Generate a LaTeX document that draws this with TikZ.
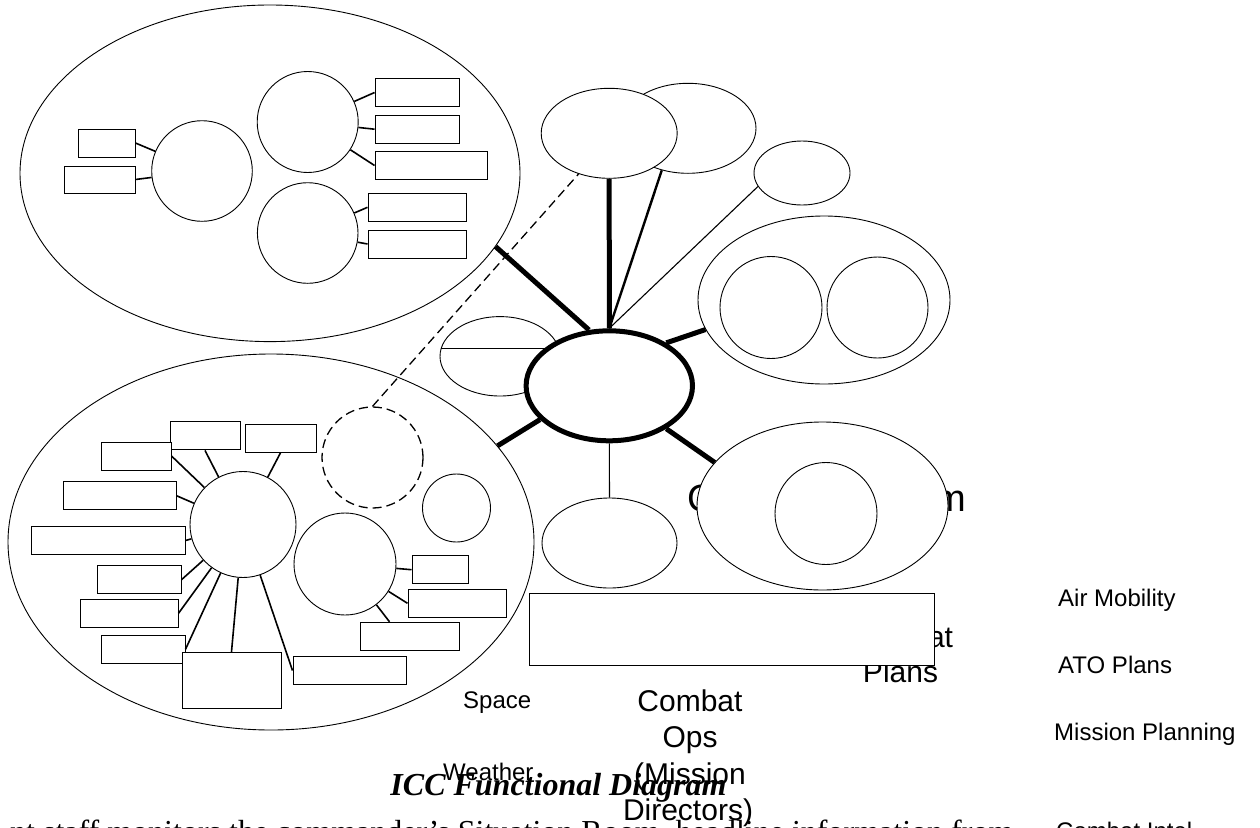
\documentclass[tikz,border=0pt]{standalone}
\usepackage{fontspec}
\setmainfont{Liberation Serif}
\newfontfamily\arialf{Liberation Sans}
\usetikzlibrary{shapes.geometric}
\begin{document}
\begin{tikzpicture}[x=1pt,y=-1pt,
  ell/.style={draw,ellipse,inner sep=0pt,line width=0.9pt,fill=white},
  circ/.style={draw,circle,inner sep=0pt,line width=0.9pt,fill=white},
  bx/.style={draw,rectangle,inner sep=0pt,line width=1pt,fill=white},
  conn/.style={line width=1.6pt},
  spoke/.style={line width=5pt},
  dashln/.style={line width=1.3pt,dash pattern=on 9pt off 5pt},
  sml/.style={font=\arialf\fontsize{24}{28}\selectfont,inner sep=0pt,anchor=base west},
  mid/.style={font=\arialf\fontsize{30}{36}\selectfont,inner sep=0pt,anchor=base}
]
\clip (0,0) rectangle (1260,827);
\path[use as bounding box] (0,0) rectangle (1260,827);

% texts partly hidden behind shapes
\node[font=\arialf\fontsize{38}{44}\selectfont,inner sep=0pt,anchor=base west] (tteam) at (687,511) {Command Team};
\node[mid] (tcp1) at (900.5,647) {Combat};
\node[mid] (tcp2) at (900.5,682) {Plans};

% large shapes
\node[ell,minimum width=500pt,minimum height=336.6pt] (TL) at (270,173.3) {};
\node[ell,minimum width=526pt,minimum height=376pt] (LL) at (271,542) {};
\node[ell,minimum width=252pt,minimum height=168pt] (D) at (824,300) {};
\node[ell,minimum width=96pt,minimum height=64pt] (C) at (802,173) {};
\node[ell,minimum width=136pt,minimum height=90pt] (B) at (688,128.3) {};
\node[ell,minimum width=136pt,minimum height=90pt] (A) at (609.2,133.3) {};
\node[ell,minimum width=135pt,minimum height=90pt] (E) at (609.5,543) {};
\node[ell,minimum width=251pt,minimum height=168pt] (LR) at (822.5,506) {};
\node[ell,minimum width=120pt,minimum height=79.4pt] (F) at (500,356.3) {};
\draw[line width=0.9pt] (F.172) -- (F.8);
\node[bx,minimum width=405pt,minimum height=72pt] (wide) at (731.5,629) {};
\node[draw,ellipse,inner sep=0pt,line width=5pt,fill=white,minimum width=166.4pt,minimum height=110pt] (hub) at (609.3,385.8) {};

% top-left group
\node[circ,minimum size=100.6pt] (c1) at (202,171) {};
\node[circ,minimum size=101pt] (c2) at (307.7,122) {};
\node[circ,minimum size=100.6pt] (c3) at (307.7,233) {};
\node[bx,minimum width=57pt,minimum height=28pt] (bA) at (106.5,143) {};
\node[bx,minimum width=71pt,minimum height=27pt] (bB) at (99.5,179.5) {};
\node[bx,minimum width=84.3pt,minimum height=28.4pt] (bC) at (417.2,92.5) {};
\node[bx,minimum width=84.3pt,minimum height=28.3pt] (bD) at (417.2,129.2) {};
\node[bx,minimum width=112.3pt,minimum height=27.6pt] (bE) at (431.2,165.5) {};
\node[bx,minimum width=98pt,minimum height=28pt] (bF) at (417,207.3) {};
\node[bx,minimum width=98pt,minimum height=28pt] (bG) at (417,244) {};
\draw[conn] (bA.east) -- (c1);
\draw[conn] (bB.east) -- (c1);
\draw[conn] (bC.west) -- (c2);
\draw[conn] (bD.west) -- (c2);
\draw[conn] (bE.west) -- (c2);
\draw[conn] (bF.west) -- (c3);
\draw[conn] (bG.west) -- (c3);

% right-hand inner circles
\node[circ,minimum size=102pt] (d1) at (771,307.5) {};
\node[circ,minimum size=101pt] (d2) at (877.5,307.5) {};
\node[circ,minimum size=102pt] (lrc) at (826,513.5) {};

% lower-left group
\node[circ,minimum size=106pt] (lc) at (243,524.5) {};
\node[circ,minimum size=102pt] (sc) at (345,564) {};
\node[draw,circle,inner sep=0pt,dashln,minimum size=101pt] (dc) at (372.5,457.5) {};
\node[circ,minimum size=68pt] (s4) at (456.5,508) {};
\node[bx,minimum width=70pt,minimum height=28.3pt] (b1) at (205,435.8) {};
\node[bx,minimum width=71pt,minimum height=28pt] (b2) at (280.5,438.3) {};
\node[bx,minimum width=70pt,minimum height=28pt] (b3) at (136,456) {};
\node[bx,minimum width=113pt,minimum height=28pt] (b4) at (119.5,495.7) {};
\node[bx,minimum width=154pt,minimum height=27.6pt] (b5) at (108,540.5) {};
\node[bx,minimum width=84pt,minimum height=28pt] (b6) at (139,579.7) {};
\node[bx,minimum width=98pt,minimum height=28pt] (b7) at (129,613.3) {};
\node[bx,minimum width=84pt,minimum height=28pt] (b8) at (143,649.3) {};
\node[bx,minimum width=99pt,minimum height=56pt] (b9) at (231.5,680.3) {};
\node[bx,minimum width=113pt,minimum height=27.6pt] (b10) at (349.5,670.5) {};
\node[bx,minimum width=56pt,minimum height=28pt] (b11) at (440,569.7) {};
\node[bx,minimum width=98pt,minimum height=28pt] (b12) at (457,603.3) {};
\node[bx,minimum width=99pt,minimum height=28pt] (b13) at (409.5,636.3) {};
\draw[conn] (b1.south) -- (lc);
\draw[conn] (b2.south) -- (lc);
\draw[conn] (b3.east) -- (lc);
\draw[conn] (b4.east) -- (lc);
\draw[conn] (b5.east) -- (lc);
\draw[conn] (b6.east) -- (lc);
\draw[conn] (b7.east) -- (lc);
\draw[conn] (b8.east) -- (lc);
\draw[conn] (b9.north) -- (lc);
\draw[conn] (b10.west) -- (lc);
\draw[conn] (b11.west) -- (sc);
\draw[conn] (b12.west) -- (sc);
\draw[conn] ([xshift=30pt]b13.north west) -- (sc);

% spokes from the hub
\draw[spoke] (hub.110) -- (TL.-18);
\draw[spoke] (hub.north) -- (A.south);
\draw[line width=2.4pt] (hub.north) -- (B.-122);
\draw[line width=1.1pt] (hub.north) -- (C.-163);
\draw[spoke] (hub.37) -- (D.-166);
\draw[spoke] (hub.-154) -- (LL.23);
\draw[spoke] (hub.-37) -- (LR.158);
\draw[line width=1.1pt] (hub.south) -- (E.north);
\draw[dashln] (dc.north) -- (A.-127);

% labels
\node[sml] (tair) at (1058,606.7) {Air Mobility};
\node[sml] (tato) at (1058,673) {ATO Plans};
\node[sml] (tmp) at (1054,740) {Mission Planning};
\node[sml] (tci) at (1056,839) {Combat Intel};
\node[sml] (tspace) at (463,708) {Space};
\node[sml] (tweather) at (443,780) {Weather};
\node[mid] (tco1) at (690,711) {Combat};
\node[mid] (tco2) at (690,747) {Ops};
\node[mid] (tco3) at (690,784) {(Mission};
\node[mid] (tco4) at (688,820) {Directors)};
\node[font=\bfseries\itshape\fontsize{32}{38}\selectfont,inner sep=0pt,anchor=base] (title) at (558.5,795) {ICC Functional Diagram};
\node[font=\fontsize{32}{38}\selectfont,inner sep=0pt,anchor=base west] (body) at (10,842) {nt staff monitors the commander's Situation Room, headline information from};
\end{tikzpicture}
\end{document}
